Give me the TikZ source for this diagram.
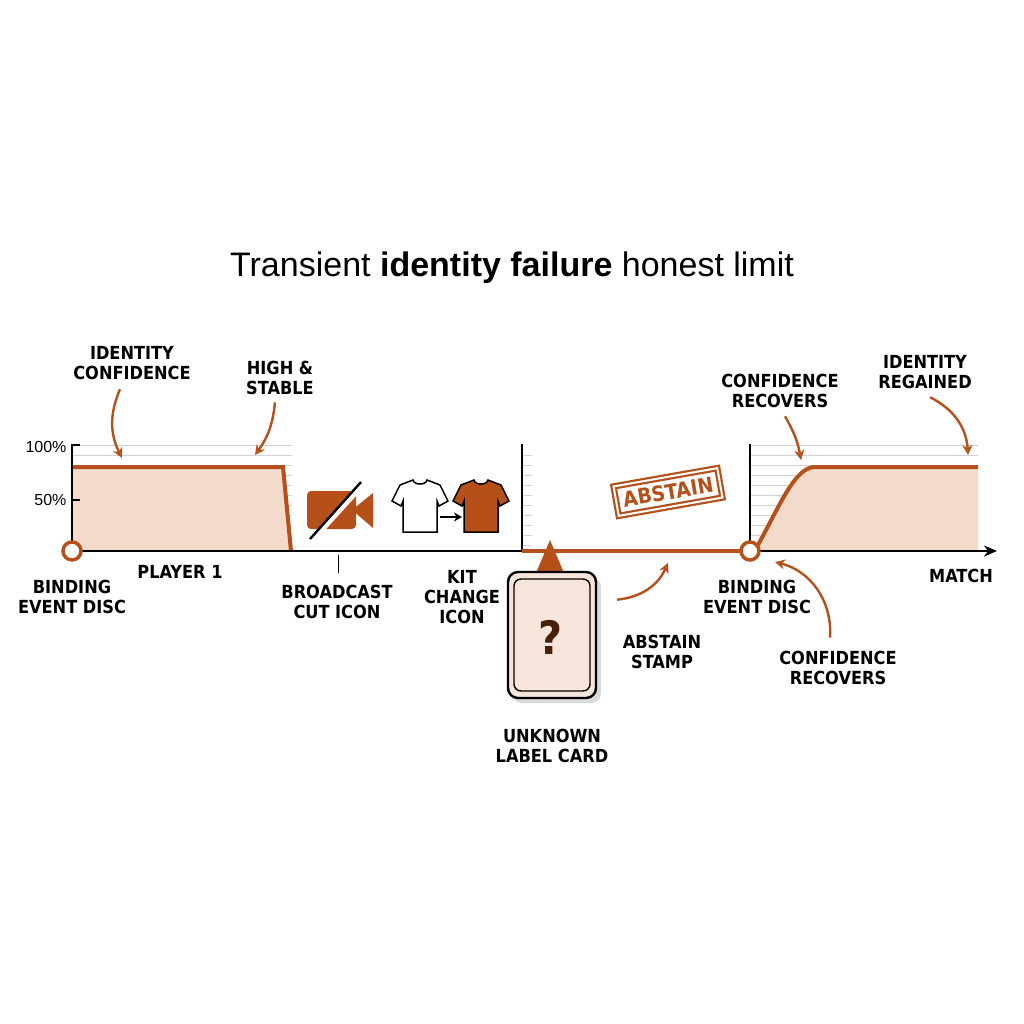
\documentclass[tikz,border=0pt]{standalone}
\usepackage{fontspec}
\setmainfont{Liberation Sans}
\newfontfamily\labfont{DejaVu Sans Condensed}
\usetikzlibrary{arrows.meta}
\definecolor{rust}{HTML}{B5501A}
\definecolor{peach}{HTML}{F3DACB}
\tikzset{>=stealth,
  lab/.style={align=center, font=\labfont\bfseries\fontsize{18}{20}\selectfont, text=black},
  callout/.style={->, rust, line width=2.4pt, >={Stealth[length=10pt,width=10pt,open]}},
  grid line/.style={gray!35, line width=0.8pt},
  disc/.style={circle, draw=rust, fill=white, line width=3.5pt, minimum size=18pt, inner sep=0pt},
  shirt/.pic={\draw[line width=1.5pt, fill=#1] (-7,-26) to[out=-80,in=-100] (7,-26) -- (20,-21) -- (28,-5) -- (19,0) -- (17,-5) -- (17,26) -- (-17,26) -- (-17,-5) -- (-19,0) -- (-28,-5) -- (-20,-21) -- cycle;}}

\begin{document}
\begin{tikzpicture}[x=1pt,y=-1pt]
\useasboundingbox (0,0) rectangle (1024,1024);
\node (title) at (512,268) {\fontsize{34}{38}\selectfont Transient \textbf{identity failure} honest limit};
% left panel
\foreach \y in {445,455,...,545}
\draw[grid line] (72,\y) -- (292,\y);
\fill[peach] (72,467) -- (283,467) -- (291,551) -- (72,551) -- cycle;
\draw[rust, line width=4pt] (72,467) -- (283,467) -- (291,551);
\draw[line width=1.8pt] (72,551) -- (72,445) -- (80,445);
\draw[line width=1.2pt] (72,500) -- (80,500);
\node[anchor=east, font=\fontsize{16}{18}\selectfont] (p100) at (70,447) {100\%};
\node[anchor=east, font=\fontsize{16}{18}\selectfont] (p50) at (70,500) {50\%};
% middle panel
\foreach \y in {455,465,...,545}
\draw[grid line] (522,\y) -- (532,\y);
\draw[line width=1.4pt] (522,444) -- (522,551);
% right panel
\foreach \y in {445,455,...,545}
\draw[grid line] (750,\y) -- (978,\y);
\fill[peach] (758,551) -- (758,545) .. controls (780,505) and (795,467) .. (815,467) -- (978,467) -- (978,551) -- cycle;
\draw[rust, line width=4pt] (758,545) .. controls (780,505) and (795,467) .. (815,467) -- (978,467);
\draw[line width=1.8pt] (750,551) -- (750,444);
% axis
\coordinate (ax0) at (72,551);
\coordinate (ax1) at (522,551);
\coordinate (ax2) at (750,551);
\coordinate (ax3) at (997,551);
\draw[line width=2.4pt] (ax0) -- (ax1);
\draw[rust, line width=4.5pt] (ax1) -- (ax2);
\draw[line width=2.4pt, -{Stealth[length=13pt,width=11pt]}] (ax2) -- (ax3);
\node[disc] (d1) at (ax0) {};
\node[disc] (d2) at (ax2) {};
% broadcast cut icon
\fill[rust, rounded corners=4pt] (307,491) rectangle (356,529);
\fill[rust] (352,510) -- (373,493) -- (373,528) -- cycle;
\draw[white, line width=6pt] (312,540) -- (362,485);
\draw[line width=2.4pt] (310,539) -- (361,482);
\draw[line width=1pt] (338,555) -- (338,573);
% kit change icon
\pic at (420,506) {shirt=white};
\pic at (481,506) {shirt=rust};
\draw[line width=2.4pt, -{Stealth[length=8pt,width=9pt]}] (440,517) -- (462,517);
% unknown card
\fill[rust] (550,540) -- (564,573) -- (536,573) -- cycle;
\fill[black!15, rounded corners=10pt] (512,577) rectangle (601,703);
\node[draw, line width=2.4pt, fill=peach!70, rounded corners=10pt, minimum width=88pt, minimum height=126pt] (card) at (552,635) {};
\draw[line width=1.4pt, rounded corners=7pt] (514,579) rectangle (590,691);
\node[font=\labfont\bfseries\fontsize{46}{50}\selectfont, text=rust!40!black] (qmark) at (550,637) {?};
% abstain stamp
\node[rotate=10, draw=rust, line width=2.2pt, double=white, double distance=2pt, inner sep=7pt, text=rust, font=\labfont\bfseries\fontsize{21}{23}\selectfont] (stamp) at (668,492) {ABSTAIN};
% labels
\node[lab] (lconf) at (132,363) {IDENTITY\\CONFIDENCE};
\node[lab] (lhigh) at (280,378) {HIGH \&\\STABLE};
\node[lab] (lplay) at (180,572) {PLAYER 1};
\node[lab] (lbind1) at (72,597) {BINDING\\EVENT DISC};
\node[lab] (lcut) at (337,602) {BROADCAST\\CUT ICON};
\node[lab] (lkit) at (462,597) {KIT\\CHANGE\\ICON};
\node[lab] (lcard) at (552,746) {UNKNOWN\\LABEL CARD};
\node[lab] (lstamp) at (662,652) {ABSTAIN\\STAMP};
\node[lab] (lbind2) at (757,597) {BINDING\\EVENT DISC};
\node[lab] (lmatch) at (961,576) {MATCH};
\node[lab] (lrec1) at (780,391) {CONFIDENCE\\RECOVERS};
\node[lab] (lreg) at (925,372) {IDENTITY\\REGAINED};
\node[lab] (lrec2) at (838,668) {CONFIDENCE\\RECOVERS};
% callouts
\coordinate (c1) at (122,458);
\coordinate (c2) at (255,455);
\coordinate (c3) at (668,563);
\coordinate (c4) at (801,460);
\coordinate (c5) at (968,455);
\coordinate (c6) at (775,562);
\draw[callout] (lconf.south) ++(-12,6) to[bend right=25] (c1);
\draw[callout] (lhigh.south) ++(-5,4) to[bend left=15] (c2);
\draw[callout] (lstamp.north) ++(-45,-32) to[bend right=30] (c3);
\draw[callout] (lrec1.south) ++(5,5) to[bend left=10] (c4);
\draw[callout] (lreg.south) ++(5,5) to[bend left=30] (c5);
\draw[callout] (lrec2.north) ++(-8,-10) to[bend right=40] (c6);
\end{tikzpicture}
\end{document}
